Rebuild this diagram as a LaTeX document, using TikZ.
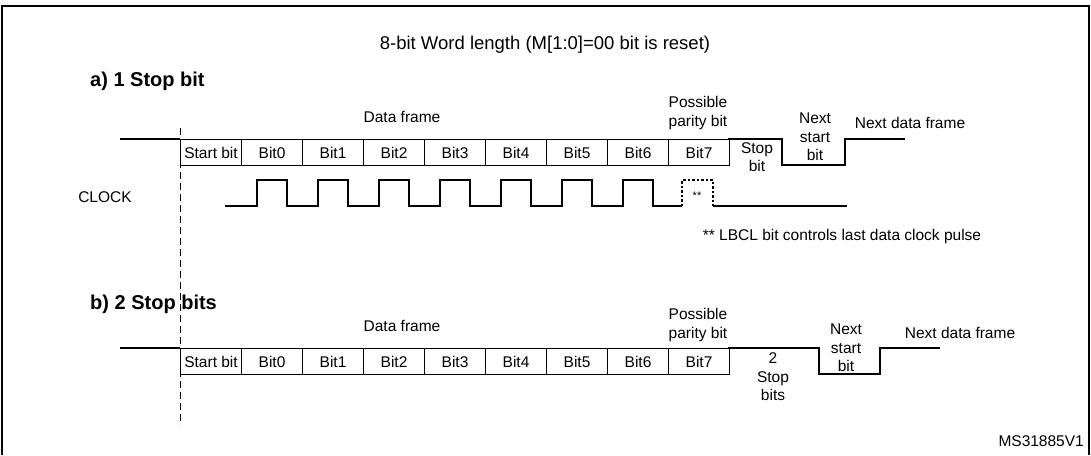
\documentclass[tikz,border=0pt]{standalone}
\usepackage{fontspec}
\setmainfont{Liberation Sans}
\begin{document}
\begin{tikzpicture}[x=1pt,y=-1pt,
  lbl/.style={font=\fontsize{15.5}{18.5}\selectfont,inner sep=0pt,align=center},
  sig/.style={line width=1.1pt},
  cell/.style={draw,line width=1.1pt,minimum width=61pt,minimum height=26pt,inner sep=0pt,anchor=north west,font=\fontsize{15.5}{18}\selectfont},
  hdr/.style={font=\bfseries\fontsize{20}{22}\selectfont,inner sep=0pt,anchor=west}]
\useasboundingbox (0,0) rectangle (1091,455);
\draw[line width=1.2pt] (2,455) -- (2,6) -- (1089,6) -- (1089,455);
\node[font=\fontsize{18.5}{21}\selectfont,inner sep=0pt] (title) at (545,45) {8-bit Word length (M[1:0]=00 bit is reset)};
\node[hdr] (ha) at (90,81) {a) 1 Stop bit};
\node[hdr] (hb) at (90,304) {b) 2 Stop bits};
\coordinate (d1) at (180,128); \coordinate (d2) at (180,425);
\draw[dashed,line width=0.8pt,dash pattern=on 7pt off 4pt] (d1) -- (d2);
\foreach \y/\s in {139/a,348/b}{
  \coordinate (i1\s) at (120,\y); \coordinate (i2\s) at (180,\y);
  \draw[sig] (i1\s) -- (i2\s);
  \node[cell] (st\s) at (180,\y) {Start bit};
  \foreach \k in {0,...,7}{
    \node[cell] (b\k\s) at ({241+61*\k},\y) {Bit\k};
  }
}
\node[lbl] (dfa) at (402,117) {Data frame};
\node[lbl] (ppa) at (698,113) {Possible\\parity bit};
\coordinate (sa1) at (728,139); \coordinate (sa2) at (782,139);
\coordinate (sa3) at (782,165); \coordinate (sa4) at (845,165);
\coordinate (sa5) at (845,139); \coordinate (sa6) at (905,139);
\draw[sig] (sa1) -- (sa2) -- (sa3) -- (sa4) -- (sa5) -- (sa6);
\node[lbl] (stopa) at (757,157) {Stop\\bit};
\node[lbl] (nsa) at (815,137) {Next\\start\\bit};
\node[lbl] (ndfa) at (910,123) {Next data frame};
\node[lbl] (clk) at (105,197) {CLOCK};
\coordinate (c0) at (225,206);
\draw[sig] (c0) \foreach \k in {0,...,6}{ -- ({257+61*\k},206) -- ({257+61*\k},180) -- ({287+61*\k},180) -- ({287+61*\k},206)} -- (682,206);
\coordinate (p1) at (682,206); \coordinate (p2) at (713,206);
\draw[dashed,line width=1.1pt,dash pattern=on 2.5pt off 2pt] (p1) -- (682,180) -- (713,180) -- (p2);
\coordinate (c9) at (847,206);
\draw[sig] (p2) -- (c9);
\node[lbl,font=\fontsize{11}{12}\selectfont] (ast) at (697,196) {**};
\node[lbl] (note) at (842,236) {** LBCL bit controls last data clock pulse};
\node[lbl] (dfb) at (402,326) {Data frame};
\node[lbl] (ppb) at (698,325) {Possible\\parity bit};
\coordinate (sb1) at (728,348); \coordinate (sb2) at (819,348);
\coordinate (sb3) at (819,374); \coordinate (sb4) at (880,374);
\coordinate (sb5) at (880,348); \coordinate (sb6) at (940,348);
\draw[sig] (sb1) -- (sb2) -- (sb3) -- (sb4) -- (sb5) -- (sb6);
\node[lbl] (stopb) at (773,377) {2\\Stop\\bits};
\node[lbl] (nsb) at (846,348) {Next\\start\\bit};
\node[lbl] (ndfb) at (960,333) {Next data frame};
\node[lbl,anchor=east] (ms) at (1084,441) {MS31885V1};
\end{tikzpicture}
\end{document}
